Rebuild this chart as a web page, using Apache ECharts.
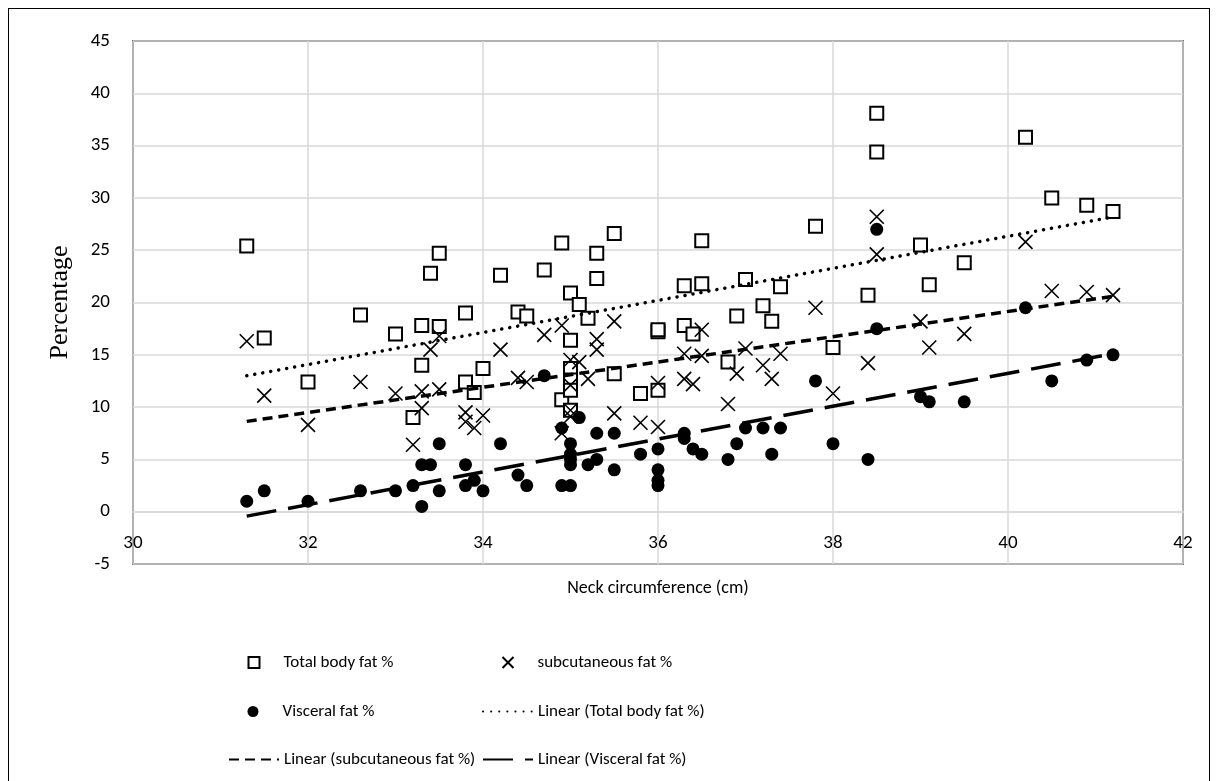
<!DOCTYPE html>
<html lang="en">
<head>
<meta charset="UTF-8">
<title>Neck circumference vs fat %</title>
<script src="https://cdnjs.cloudflare.com/ajax/libs/echarts/6.0.0/echarts.min.js"></script>
<style>
  html, body { margin: 0; padding: 0; background: #fff; }
  #frame {
    position: absolute; left: 8px; top: 8px;
    width: 1202px; height: 820px;
    border: 1px solid #000; box-sizing: border-box;
  }
  #chart { position: absolute; left: 0; top: 0; width: 1219px; height: 781px; }
</style>
</head>
<body>
<div id="frame"></div>
<div id="chart"></div>
<script>
// neck circumference (cm), value (%)
const totalFat = [
  [31.3, 25.4], [31.5, 16.6], [32.0, 12.4], [32.6, 18.8], [33.0, 17.0], [33.2, 9.0],
  [33.3, 17.8], [33.3, 14.0], [33.4, 22.8], [33.5, 17.7], [33.5, 24.7], [33.8, 19.0],
  [33.8, 12.4], [33.9, 11.4], [34.0, 13.7], [34.2, 22.6], [34.4, 19.1], [34.5, 18.7],
  [34.7, 23.1], [34.9, 25.7], [34.9, 10.7], [35.0, 20.9], [35.0, 16.4], [35.0, 13.7],
  [35.0, 12.6], [35.0, 11.6], [35.0, 9.7], [35.1, 19.8], [35.2, 18.5], [35.3, 24.7],
  [35.3, 22.3], [35.5, 26.6], [35.5, 13.2], [35.8, 11.3], [36.0, 17.2], [36.0, 17.4],
  [36.0, 11.6], [36.3, 21.6], [36.3, 17.8], [36.4, 17.0], [36.5, 25.9], [36.5, 21.8],
  [36.8, 14.3], [36.9, 18.7], [37.0, 22.2], [37.2, 19.7], [37.3, 18.2], [37.4, 21.5],
  [37.8, 27.3], [38.0, 15.7], [38.4, 20.7], [38.5, 38.1], [38.5, 34.4], [39.0, 25.5],
  [39.1, 21.7], [39.5, 23.8], [40.2, 35.8], [40.5, 30.0], [40.9, 29.3], [41.2, 28.7]
];
const subcutFat = [
  [31.3, 16.3], [31.5, 11.1], [32.0, 8.3], [32.6, 12.4], [33.0, 11.3], [33.2, 6.4],
  [33.3, 11.5], [33.3, 9.9], [33.4, 15.5], [33.5, 16.8], [33.5, 11.7], [33.8, 9.5],
  [33.8, 8.6], [33.9, 8.0], [34.0, 9.2], [34.2, 15.5], [34.4, 12.8], [34.5, 12.4],
  [34.7, 16.9], [34.9, 17.8], [34.9, 7.5], [35.0, 14.5], [35.0, 12.1], [35.0, 9.7],
  [35.0, 9.1], [35.1, 14.3], [35.2, 12.7], [35.3, 16.5], [35.3, 15.5], [35.5, 18.2],
  [35.5, 9.4], [35.8, 8.5], [36.0, 12.3], [36.0, 8.1], [36.3, 15.1], [36.3, 12.7],
  [36.4, 12.2], [36.5, 17.4], [36.5, 14.9], [36.8, 10.3], [36.9, 13.2], [37.0, 15.6],
  [37.2, 14.0], [37.3, 12.7], [37.4, 15.1], [37.8, 19.5], [38.0, 11.3], [38.4, 14.2],
  [38.5, 28.2], [38.5, 24.6], [39.0, 18.2], [39.1, 15.7], [39.5, 17.0], [40.2, 25.8],
  [40.5, 21.1], [40.9, 21.0], [41.2, 20.7]
];
const visceralFat = [
  [31.3, 1.0], [31.5, 2.0], [32.0, 1.0], [32.6, 2.0], [33.0, 2.0], [33.2, 2.5],
  [33.3, 0.5], [33.3, 4.5], [33.4, 4.5], [33.5, 6.5], [33.5, 2.0], [33.8, 4.5],
  [33.8, 2.5], [33.9, 3.0], [34.0, 2.0], [34.2, 6.5], [34.4, 3.5], [34.5, 2.5],
  [34.7, 13.0], [34.9, 8.0], [34.9, 2.5], [35.0, 6.5], [35.0, 5.5], [35.0, 5.0],
  [35.0, 4.5], [35.0, 2.5], [35.1, 9.0], [35.2, 4.5], [35.3, 5.0], [35.3, 7.5],
  [35.5, 7.5], [35.5, 4.0], [35.8, 5.5], [36.0, 6.0], [36.0, 4.0], [36.0, 3.0],
  [36.0, 2.5], [36.3, 7.5], [36.3, 7.0], [36.4, 6.0], [36.5, 5.5], [36.8, 5.0],
  [36.9, 6.5], [37.0, 8.0], [37.2, 8.0], [37.3, 5.5], [37.4, 8.0], [37.8, 12.5],
  [38.0, 6.5], [38.4, 5.0], [38.5, 27.0], [38.5, 17.5], [39.0, 11.0], [39.1, 10.5],
  [39.5, 10.5], [40.2, 19.5], [40.5, 12.5], [40.9, 14.5], [41.2, 15.0]
];

const names = [
  'Total body fat %', 'subcutaneous fat %', 'Visceral fat %',
  'Linear (Total body fat %)', 'Linear (subcutaneous fat %)', 'Linear (Visceral fat %)'
];

// least squares trend, drawn between the smallest and largest x like Excel
function trend(points) {
  const n = points.length;
  let sx = 0, sy = 0, sxx = 0, sxy = 0;
  points.forEach(([x, y]) => { sx += x; sy += y; sxx += x * x; sxy += x * y; });
  const b = (n * sxy - sx * sy) / (n * sxx - sx * sx);
  const a = (sy - b * sx) / n;
  const xs = points.map(p => p[0]);
  const x0 = Math.min(...xs), x1 = Math.max(...xs);
  return [[x0, a + b * x0], [x1, a + b * x1]];
}

const crossPath = 'path://M0,0L10,10M10,0L0,10';
const font = 'Carlito, Lato, sans-serif';

const chart = echarts.init(document.getElementById('chart'));

// col: 0 or 1, row: 0..2. marker legends get a small icon and padded text
const colX = [223, 477], rowY = [649, 698, 746];
function legendAt(name, col, row, isLine) {
  const lg = {
    data: [name], top: rowY[row],
    itemHeight: 11, itemGap: 0,
    textStyle: { fontFamily: font, fontSize: 17, color: '#000' },
    selectedMode: false
  };
  if (isLine) {
    lg.left = colX[col];
    lg.itemWidth = 50;
    lg.itemStyle = { opacity: 0 };
  } else {
    lg.left = colX[col] + 19.5;
    lg.itemWidth = 11;
    lg.textStyle.padding = [0, 0, 0, 19];
  }
  return lg;
}

const option = {
  animation: false,
  backgroundColor: 'transparent',
  grid: {
    left: 133, right: 36, top: 41, bottom: 217,
    show: true, borderColor: '#000', borderWidth: 1.5
  },
  xAxis: {
    type: 'value', min: 30, max: 42, interval: 2,
    offset: -52.3, // axis sits at y = 0
    name: 'Neck circumference (cm)', nameLocation: 'middle', nameGap: 68,
    nameTextStyle: { fontFamily: font, fontSize: 18, color: '#000' },
    axisLine: { onZero: false, lineStyle: { color: '#d9d9d9', width: 1.5 } },
    axisTick: { show: false },
    axisLabel: { fontFamily: font, fontSize: 19, color: '#000', margin: 22 },
    splitLine: { lineStyle: { color: '#d9d9d9', width: 1.5 } }
  },
  yAxis: {
    type: 'value', min: -5, max: 45, interval: 5,
    name: 'Percentage', nameLocation: 'middle', nameGap: 60, nameRotate: 90,
    nameTextStyle: { fontFamily: '"Liberation Serif", serif', fontSize: 26, color: '#000' },
    axisLine: { show: false },
    axisTick: { show: false },
    axisLabel: { fontFamily: font, fontSize: 19, color: '#000', margin: 23 },
    splitLine: { lineStyle: { color: '#d9d9d9', width: 1.5 } }
  },
  legend: [
    legendAt(names[0], 0, 0),
    legendAt(names[1], 1, 0),
    legendAt(names[2], 0, 1),
    legendAt(names[3], 1, 1, true),
    legendAt(names[4], 0, 2, true),
    legendAt(names[5], 1, 2, true)
  ],
  series: [
    {
      name: names[0], type: 'scatter', data: totalFat,
      symbol: 'rect', symbolSize: 13, z: 3,
      itemStyle: { color: '#fff', borderColor: '#000', borderWidth: 2, opacity: 1 }
    },
    {
      name: names[1], type: 'scatter', data: subcutFat,
      symbol: crossPath, symbolSize: 14, z: 4,
      itemStyle: { color: 'transparent', borderColor: '#000', borderWidth: 1.6, opacity: 1 }
    },
    {
      name: names[2], type: 'scatter', data: visceralFat,
      symbol: 'circle', symbolSize: 13, z: 5,
      itemStyle: { color: '#000', opacity: 1 }
    },
    {
      name: names[3], type: 'line', data: trend(totalFat),
      symbol: 'none', z: 6, silent: true,
      itemStyle: { color: '#000' },
      lineStyle: { color: '#000', width: 3.5, type: [0.1, 8], cap: 'round' }
    },
    {
      name: names[4], type: 'line', data: trend(subcutFat),
      symbol: 'none', z: 6, silent: true,
      itemStyle: { color: '#000' },
      lineStyle: { color: '#000', width: 3.5, type: [10, 6] }
    },
    {
      name: names[5], type: 'line', data: trend(visceralFat),
      symbol: 'none', z: 6, silent: true,
      itemStyle: { color: '#000' },
      lineStyle: { color: '#000', width: 3.5, type: [30, 12] }
    }
  ]
};

chart.setOption(option);
</script>
</body>
</html>
